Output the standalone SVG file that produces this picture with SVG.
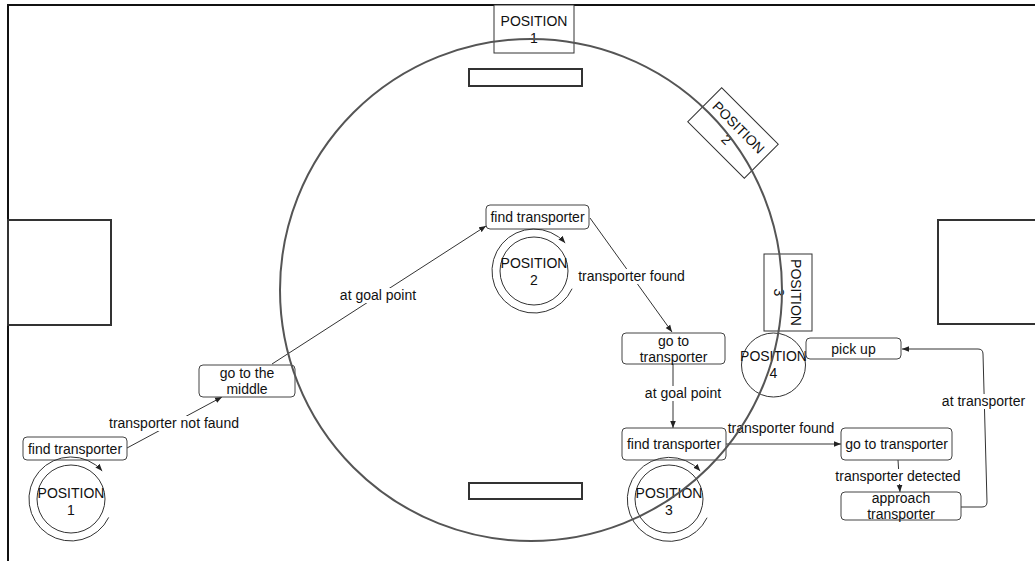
<svg xmlns="http://www.w3.org/2000/svg" width="1035" height="561" viewBox="0 0 1035 561">
  <style>
    text { font-family: "Liberation Sans", Arial, sans-serif; font-size: 14px; fill: #111; text-anchor: middle; }
    .frame { stroke: #111; stroke-width: 2; fill: none; }
    .block { stroke: #333; stroke-width: 2; fill: #fff; }
    .zone { stroke: #333; stroke-width: 1; fill: #fff; }
    .state { stroke: #444; stroke-width: 1; fill: #fff; }
    .pos { stroke: #333; stroke-width: 1; fill: none; }
    .edge { stroke: #333; stroke-width: 1; fill: none; }
    .lblbg { fill: #fff; }
    .track { stroke: #555; stroke-width: 2; fill: none; }
  </style>
  <defs>
    <marker id="arr" viewBox="0 0 10 10" refX="10" refY="5" markerWidth="7" markerHeight="7" orient="auto" markerUnits="userSpaceOnUse">
      <path d="M0,1 L10,5 L0,9 z" fill="#222"/>
    </marker>
  </defs>

  <!-- field frame -->
  <g id="field">
    <path class="frame" d="M8,561 L8,5 L1035,5"/>
    <rect class="block" x="8" y="220" width="103" height="105"/>
    <rect class="block" x="938" y="220" width="100" height="104"/>
    <rect class="block" x="469" y="69" width="113" height="17"/>
    <rect class="block" x="469" y="483" width="113" height="16"/>
  </g>

  <!-- track positions -->
  <g id="track-position-1">
    <rect class="zone" x="494" y="5" width="80" height="48"/>
    <text x="534" y="26">POSITION</text>
    <text x="534" y="43">1</text>
  </g>
  <g id="track-position-2" transform="translate(733,133) rotate(45)">
    <rect class="zone" x="-40" y="-24" width="80" height="48"/>
    <text x="0" y="-3">POSITION</text>
    <text x="0" y="14">2</text>
  </g>
  <g id="track-position-3" transform="translate(788,292.5) rotate(90)">
    <rect class="zone" x="-38.5" y="-24" width="77" height="48"/>
    <text x="0" y="-3">POSITION</text>
    <text x="0" y="14">3</text>
  </g>

  <!-- connectors -->
  <g id="connectors">
    <path class="edge" d="M127,448 L222,397" marker-end="url(#arr)"/>
    <path class="edge" d="M272,364 L486,226" marker-end="url(#arr)"/>
    <path class="edge" d="M590,218 L672,332" marker-end="url(#arr)"/>
    <path class="edge" d="M673,364 L673,428" marker-end="url(#arr)"/>
    <path class="edge" d="M726,444 L841,444" marker-end="url(#arr)"/>
    <path class="edge" d="M898,460 L900,492" marker-end="url(#arr)"/>
    <path class="edge" d="M961,507 L982,507 Q987,507 987,502 L983,354 Q983,349 978,349 L902,349" marker-end="url(#arr)"/>

    <rect class="lblbg" x="107" y="416" width="134" height="15"/>
    <text x="174" y="428">transporter not faund</text>
    <rect class="lblbg" x="339" y="288" width="79" height="15"/>
    <text x="378" y="300">at goal point</text>
    <rect class="lblbg" x="577" y="269" width="110" height="15"/>
    <text x="631.5" y="281">transporter found</text>
    <rect class="lblbg" x="644" y="386" width="79" height="15"/>
    <text x="683" y="398">at goal point</text>
    <text x="781" y="433">transporter found</text>
    <rect class="lblbg" x="834" y="469" width="129" height="15"/>
    <text x="898" y="481">transporter detected</text>
    <rect class="lblbg" x="941" y="394" width="86" height="15"/>
    <text x="983.5" y="406">at transporter</text>
  </g>

  <!-- states -->
  <g id="find-transporter-1">
    <rect class="state" x="23" y="437" width="104" height="23" rx="4"/>
    <text x="75" y="454">find transporter</text>
  </g>
  <g id="position-1">
    <circle class="pos" cx="71" cy="499" r="34"/>
    <path class="pos" d="M108.7,517.4 A42,42 0 1 1 102.2,470.9" marker-end="url(#arr)"/>
    <text x="71" y="498">POSITION</text>
    <text x="71" y="515">1</text>
  </g>
  <g id="go-to-the-middle">
    <rect class="state" x="199" y="365" width="96" height="32" rx="4"/>
    <text x="247" y="378">go to the</text>
    <text x="247" y="394">middle</text>
  </g>
  <g id="find-transporter-2">
    <rect class="state" x="486" y="205" width="103" height="24" rx="4"/>
    <text x="537.5" y="222">find transporter</text>
  </g>
  <g id="position-2">
    <circle class="pos" cx="534" cy="271" r="34"/>
    <path class="pos" d="M572.1,288.7 A42,42 0 1 1 565.2,242.9" marker-end="url(#arr)"/>
    <text x="534" y="268">POSITION</text>
    <text x="534" y="285">2</text>
  </g>
  <g id="go-to-transporter-1">
    <rect class="state" x="622" y="333" width="103" height="31" rx="4"/>
    <text x="673.5" y="346">go to</text>
    <text x="673.5" y="362">transporter</text>
  </g>
  <g id="find-transporter-3">
    <rect class="state" x="622" y="428" width="104" height="32" rx="4"/>
    <text x="674" y="449">find transporter</text>
  </g>
  <g id="position-3">
    <circle class="pos" cx="669" cy="499" r="34"/>
    <path class="pos" d="M707.1,517.7 A42,42 0 1 1 700.2,470.9" marker-end="url(#arr)"/>
    <text x="669" y="498">POSITION</text>
    <text x="669" y="515">3</text>
  </g>
  <g id="go-to-transporter-2">
    <rect class="state" x="841" y="428" width="111" height="32" rx="4"/>
    <text x="896.5" y="449">go to transporter</text>
  </g>
  <g id="approach-transporter">
    <rect class="state" x="841" y="492" width="120" height="28" rx="4"/>
    <text x="901" y="503">approach</text>
    <text x="901" y="519">transporter</text>
  </g>
  <g id="position-4">
    <circle class="pos" cx="773.5" cy="365" r="32"/>
    <text x="773.5" y="361">POSITION</text>
    <text x="773.5" y="378">4</text>
  </g>
  <g id="pick-up">
    <rect class="state" x="806" y="338" width="95" height="21" rx="4"/>
    <text x="853.5" y="354">pick up</text>
  </g>

  <!-- circular track drawn on top -->
  <g id="track">
    <circle class="track" cx="531" cy="290" r="251"/>
  </g>
</svg>
